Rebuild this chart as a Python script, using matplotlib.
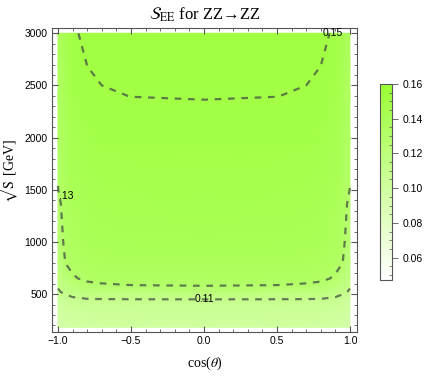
import numpy as np
import matplotlib
matplotlib.use("Agg")
import matplotlib.pyplot as plt
from matplotlib.colors import LinearSegmentedColormap

# grid (symmetric in cos(theta), only cos >= 0 stored)
cos_half = [0.0, 0.5, 0.7, 0.8, 0.9, 0.95, 0.98, 1.0]
sqrt_s = [182, 350, 450, 520, 580, 650, 800, 1000, 1500, 2000, 2400, 2700, 3000]
# one list per cos value, going up in sqrt(s)
see_c000 = [0.100, 0.1055, 0.1100, 0.1210, 0.1300, 0.1350, 0.1390, 0.1420, 0.1450, 0.1480, 0.1502, 0.1510, 0.1520]
see_c050 = [0.0998, 0.1052, 0.1098, 0.1205, 0.1295, 0.1347, 0.1387, 0.1417, 0.1447, 0.1477, 0.15005, 0.1508, 0.1518]
see_c070 = [0.0995, 0.1049, 0.1096, 0.1200, 0.1280, 0.1340, 0.1382, 0.1412, 0.1442, 0.1472, 0.1496, 0.1508, 0.1516]
see_c080 = [0.0990, 0.1045, 0.1093, 0.1190, 0.1265, 0.1325, 0.1370, 0.1400, 0.1432, 0.1462, 0.1490, 0.15005, 0.1512]
see_c090 = [0.0980, 0.1030, 0.1075, 0.1155, 0.1225, 0.1285, 0.1335, 0.1370, 0.1405, 0.1435, 0.1462, 0.1478, 0.1492]
see_c095 = [0.0965, 0.1010, 0.1055, 0.1120, 0.1170, 0.1215, 0.1300, 0.1335, 0.1370, 0.1390, 0.1410, 0.1420, 0.1430]
see_c098 = [0.0950, 0.0990, 0.1035, 0.1100, 0.1145, 0.1180, 0.1225, 0.1260, 0.1315, 0.1340, 0.1355, 0.1365, 0.1375]
see_c100 = [0.0935, 0.0975, 0.1015, 0.1075, 0.1120, 0.1155, 0.1200, 0.1235, 0.1298, 0.1325, 0.1340, 0.1350, 0.1360]

contour_levels = [0.11, 0.13, 0.15]
cbar_ticks = [0.06, 0.08, 0.10, 0.12, 0.14, 0.16]
vmin, vmax = 0.047, 0.16

half = np.array([see_c000, see_c050, see_c070, see_c080, see_c090,
                 see_c095, see_c098, see_c100]).T
cos_full = np.concatenate([-np.array(cos_half[:0:-1]), cos_half])
Z = np.concatenate([half[:, :0:-1], half], axis=1)
X, Y = np.meshgrid(cos_full, sqrt_s)

plt.rcParams['font.family'] = ['Liberation Sans', 'DejaVu Sans']
plt.rcParams['mathtext.fontset'] = 'stix'

cmap = LinearSegmentedColormap.from_list('wg', ['#ffffff', '#99ff33'])
frame_col = '#555555'

fig = plt.figure(figsize=(4.26, 3.77), dpi=100)
ax = fig.add_axes([0.122, 0.119, 0.716, 0.806])
ax.pcolormesh(X, Y, Z, shading='gouraud', cmap=cmap, vmin=vmin, vmax=vmax)
cs = ax.contour(X, Y, Z, levels=contour_levels, colors='#4a5a44',
                linestyles=[(0, (3, 3))], linewidths=1.6, alpha=0.8)

ax.text(0.88, 3000, '0.15', fontsize=7.5, ha='center', va='center', zorder=5)
ax.text(-0.99, 1440, '.13', fontsize=7.5, ha='left', va='center', zorder=5)
ax.text(0.0, 450, '0.11', fontsize=7.5, ha='center', va='center', zorder=5)

ax.set_xlim(-1.041, 1.048)
ax.set_ylim(136, 3048)
ax.set_xticks([-1.0, -0.5, 0.0, 0.5, 1.0])
ax.set_xticklabels(['\u22121.0', '\u22120.5', '0.0', '0.5', '1.0'])
ax.set_xticks(np.arange(-1.0, 1.01, 0.1), minor=True)
ax.set_yticks([500, 1000, 1500, 2000, 2500, 3000])
ax.set_yticks(np.arange(200, 3001, 100), minor=True)
ax.tick_params(which='both', direction='in', top=True, right=True,
               color=frame_col, labelsize=7.5, pad=3)
ax.tick_params(which='major', length=4, width=0.8)
ax.tick_params(which='minor', length=2.5, width=0.6)
for sp in ax.spines.values():
    sp.set_color(frame_col)

ax.set_xlabel(r'cos($\theta$)', fontsize=10, family='Liberation Serif', labelpad=6)
ax.set_ylabel(r'$\sqrt{\mathrm{S}}$ [GeV]', fontsize=10, family='Liberation Serif')
ax.yaxis.set_label_coords(-0.10, 0.53)
ax.set_title(r'$\mathcal{S}_{\mathrm{EE}}$ for ZZ' + '\u2192' + 'ZZ', fontsize=12,
             family='Liberation Serif', pad=6)

cax = fig.add_axes([0.892, 0.257, 0.028, 0.52])
sm = plt.cm.ScalarMappable(cmap=cmap, norm=plt.Normalize(vmin, vmax))
cb = fig.colorbar(sm, cax=cax, ticks=cbar_ticks)
cb.ax.set_yticklabels(['%.2f' % t for t in cbar_ticks])
cb.ax.set_yticks(np.arange(0.05, 0.161, 0.005), minor=True)
cb.ax.tick_params(which='major', length=4, width=0.6, color=frame_col, labelsize=7.5)
cb.ax.tick_params(which='minor', length=2, width=0.5, color=frame_col, direction='in')
cb.outline.set_edgecolor(frame_col)

fig.savefig('out.png', dpi=100)
